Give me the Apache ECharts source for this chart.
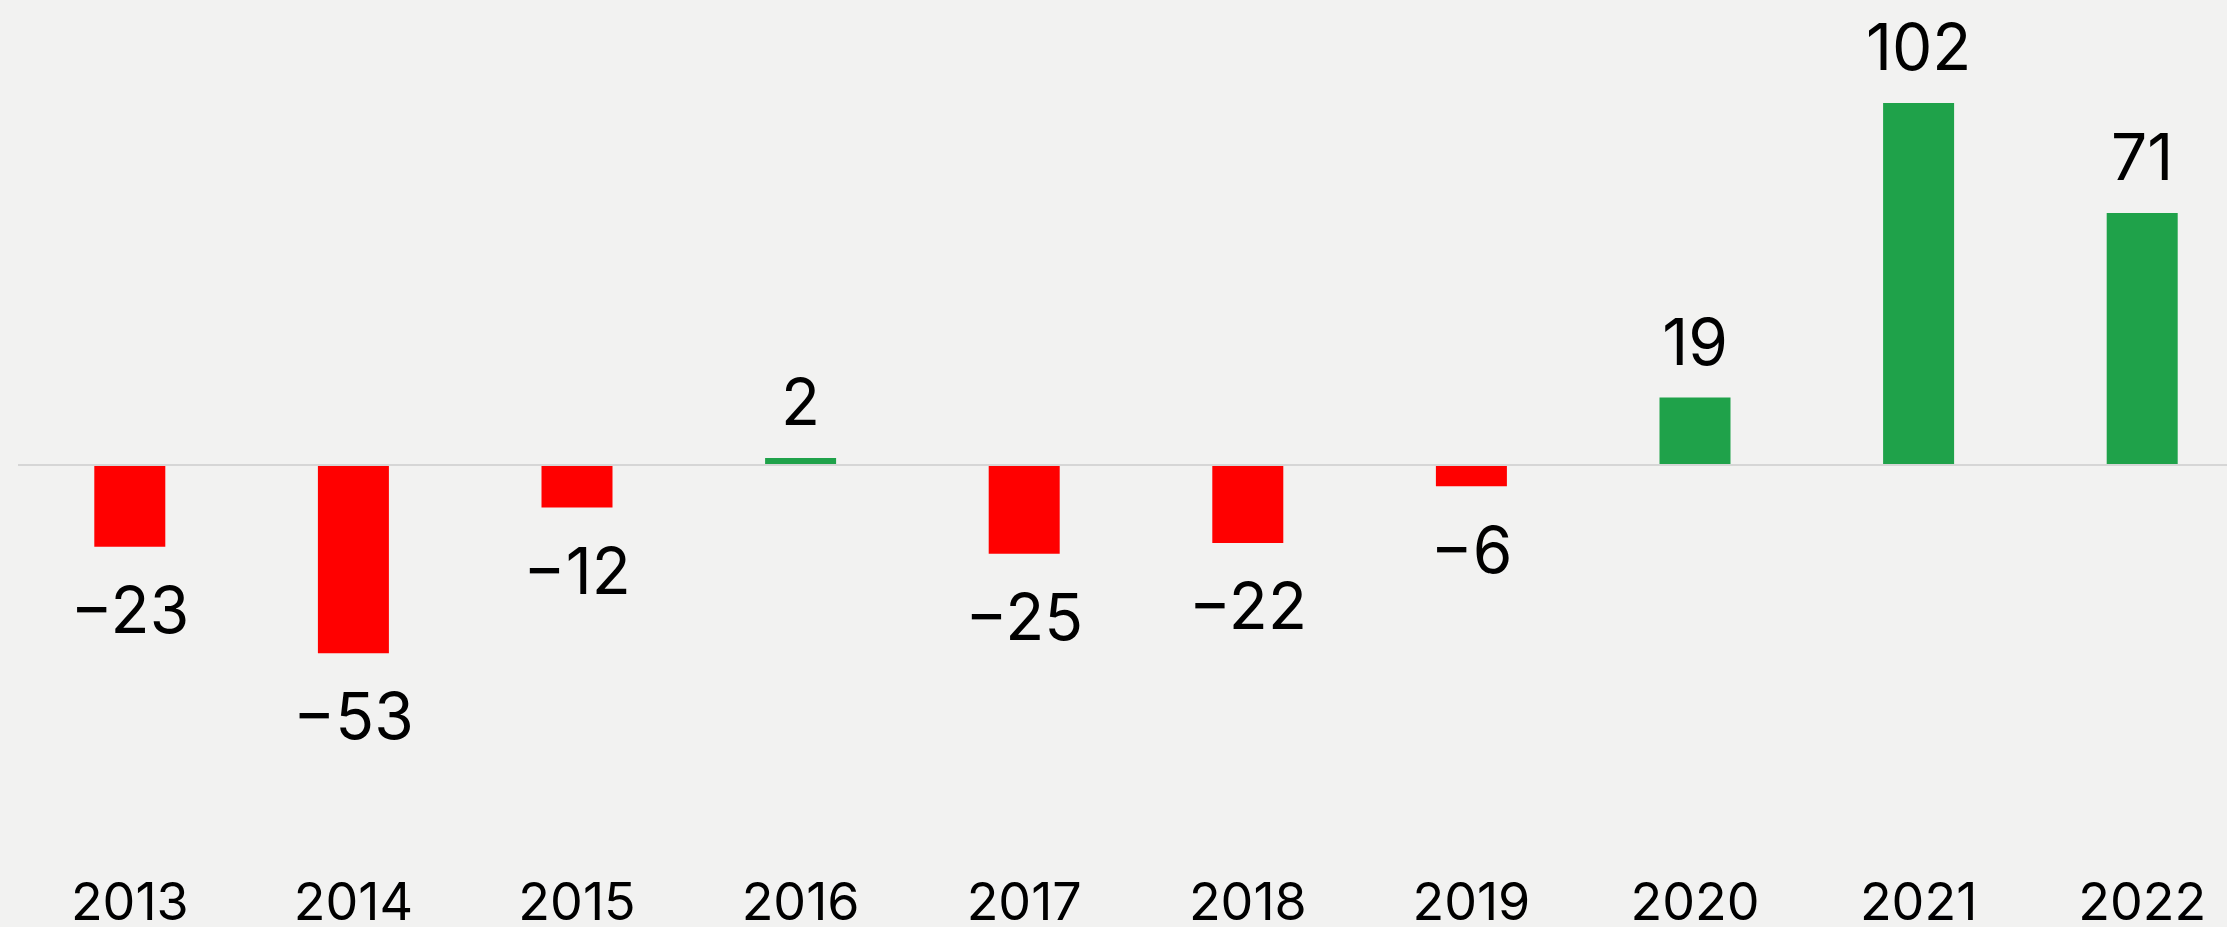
<!DOCTYPE html>
<html>
<head>
<meta charset="utf-8">
<script src="https://cdn.jsdelivr.net/npm/echarts@6/dist/echarts.min.js"></script>
<style>
	html, body { margin: 0; padding: 0; background: #f2f2f1; }
	#chart { width: 2227px; height: 927px; }
</style>
</head>
<body>
<div id="chart"></div>
<script>
const years = ['2013', '2014', '2015', '2016', '2017', '2018', '2019', '2020', '2021', '2022'];
const values = [-23, -53, -12, 2, -25, -22, -6, 19, 102, 71];

const chart = echarts.init(document.getElementById('chart'));

const barData = values.map(function (v) {
	return {
		value: v,
		itemStyle: {
			color: v < 0 ? '#ff0000' : '#1fa24a'
		},
		label: {
			position: v < 0 ? 'bottom' : 'top',
			distance: v < 0 ? 35 : 20
		}
	};
});

const option = {
	backgroundColor: '#f2f2f1',
	animation: false,
	grid: {
		left: 18,
		top: 39,
		width: 2236,
		height: 710,
		outerBoundsMode: 'none',
		containLabel: false
	},
	xAxis: {
		type: 'category',
		data: years,
		axisLine: { show: false, onZero: false },
		axisTick: { show: false },
		axisLabel: {
			color: '#000',
			fontFamily: 'Inter',
			fontSize: 52,
			margin: 129
		}
	},
	yAxis: {
		type: 'value',
		min: -80,
		max: 120,
		show: false,
		splitLine: { show: false }
	},
	series: [{
		type: 'bar',
		data: barData,
		barWidth: 71,
		label: {
			show: true,
			color: '#000',
			fontFamily: 'Inter',
			fontSize: 64,
			// the original uses a long minus sign
			formatter: function (p) {
				return String(p.value).replace('-', '\u2212');
			}
		},
		markLine: {
			silent: true,
			symbol: 'none',
			label: { show: false },
			lineStyle: { color: '#d6d6d6', width: 2, type: 'solid' },
			data: [{ yAxis: 0 }]
		}
	}]
};

chart.setOption(option);
</script>
</body>
</html>
